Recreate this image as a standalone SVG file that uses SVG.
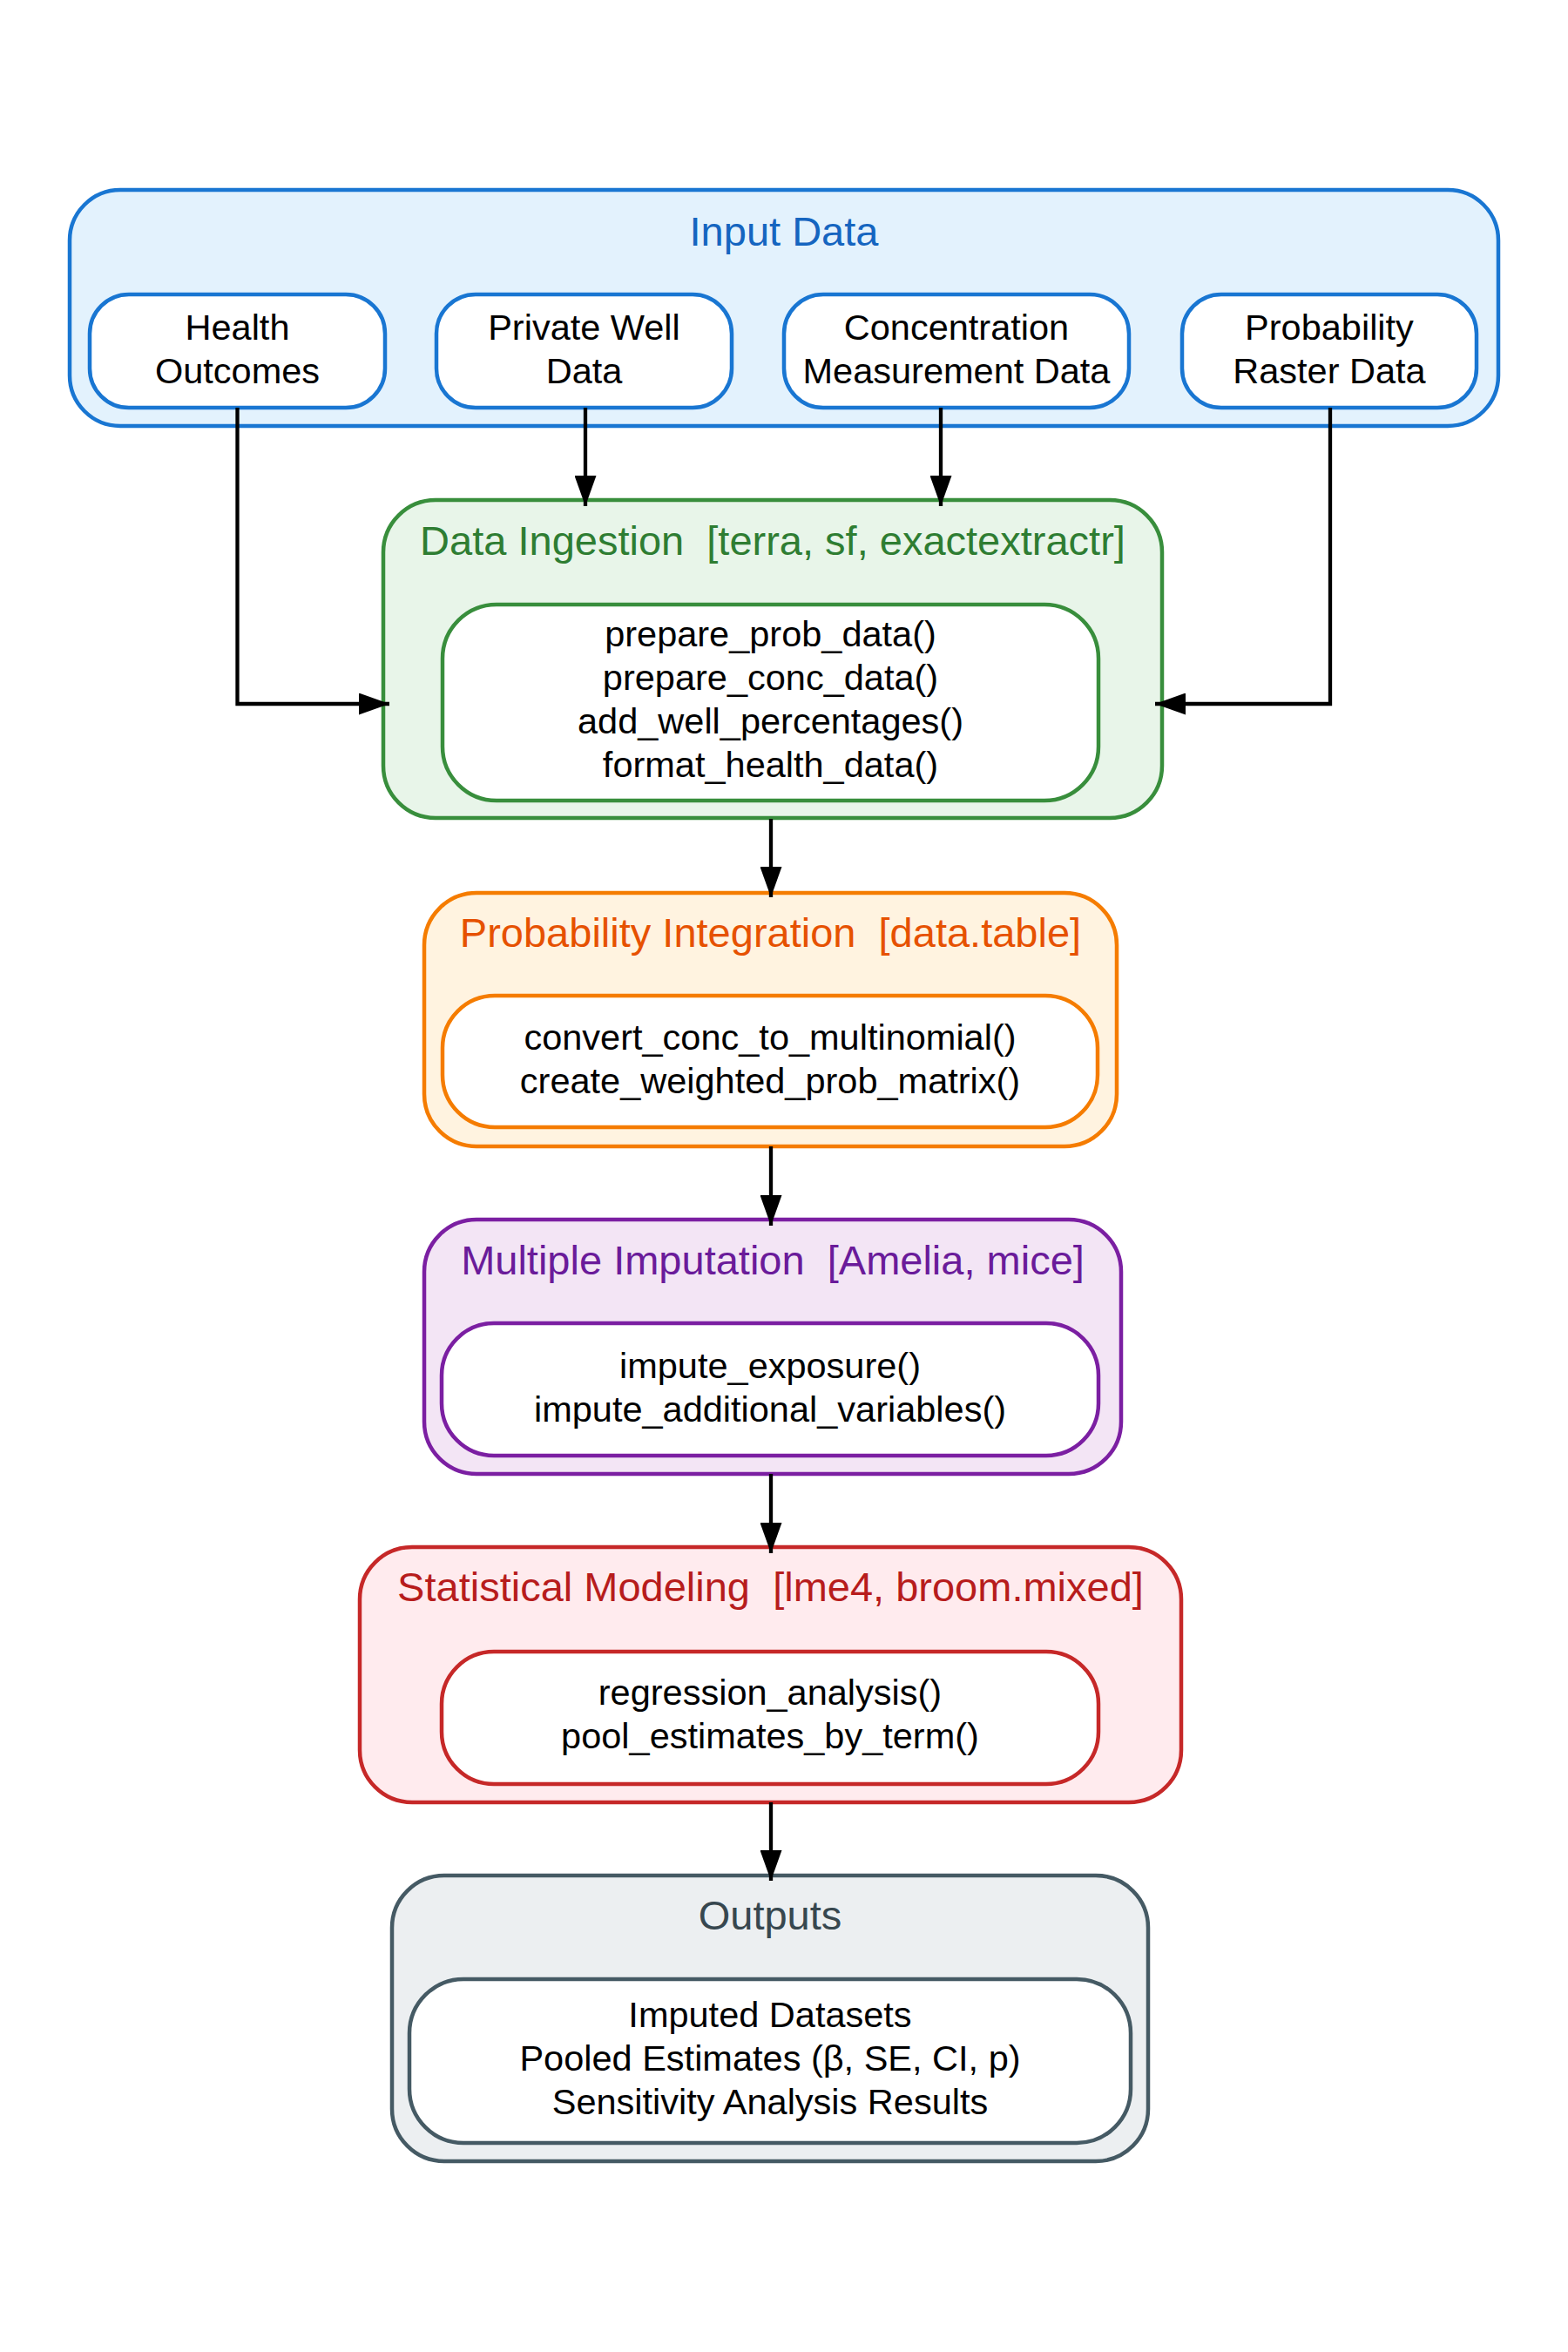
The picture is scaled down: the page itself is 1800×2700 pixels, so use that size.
<svg xmlns="http://www.w3.org/2000/svg" width="1800" height="2700" viewBox="0 0 1800 2700">
<defs>
<marker id="arr" markerUnits="userSpaceOnUse" markerWidth="35" markerHeight="25" refX="35" refY="12.5" orient="auto">
<path d="M0,0 L35,12.5 L0,25 z" fill="#000"/>
</marker>
<style>
text{font-family:"Liberation Sans",Arial,sans-serif;text-anchor:middle;white-space:pre}
.t{font-size:47px}
.n{font-size:41.5px;fill:#000}
.box{stroke-width:4.5}
.in{fill:#fff;stroke-width:4.5}
.edge{fill:none;stroke:#000;stroke-width:4.3;marker-end:url(#arr)}
</style>
</defs>
<rect width="1800" height="2700" fill="#fff"/>

<g id="input-data">
<rect class="box" x="80" y="218" width="1640" height="271" rx="58" fill="#E3F2FD" stroke="#1976D2"/>
<text class="t" x="900" y="282" fill="#1565C0">Input Data</text>
</g>
<g id="health-outcomes">
<rect class="in" x="103" y="338" width="339" height="130" rx="45" stroke="#1976D2"/>
<text class="n" x="272.5" y="390">Health</text>
<text class="n" x="272.5" y="440">Outcomes</text>
</g>
<g id="private-well">
<rect class="in" x="501" y="338" width="339" height="130" rx="45" stroke="#1976D2"/>
<text class="n" x="670.5" y="390">Private Well</text>
<text class="n" x="670.5" y="440">Data</text>
</g>
<g id="concentration">
<rect class="in" x="900" y="338" width="396" height="130" rx="45" stroke="#1976D2"/>
<text class="n" x="1098" y="390">Concentration</text>
<text class="n" x="1098" y="440">Measurement Data</text>
</g>
<g id="probability-raster">
<rect class="in" x="1357" y="338" width="338" height="130" rx="45" stroke="#1976D2"/>
<text class="n" x="1526" y="390">Probability</text>
<text class="n" x="1526" y="440">Raster Data</text>
</g>

<g id="data-ingestion">
<rect class="box" x="440" y="574" width="894" height="365" rx="60" fill="#E8F5E9" stroke="#388E3C"/>
<text class="t" x="887" y="637" fill="#2E7D32">Data Ingestion  [terra, sf, exactextractr]</text>
<rect class="in" x="508" y="694" width="753" height="225" rx="62" stroke="#388E3C"/>
<text class="n" x="884.5" y="741.7">prepare_prob_data()</text>
<text class="n" x="884.5" y="791.7">prepare_conc_data()</text>
<text class="n" x="884.5" y="841.7">add_well_percentages()</text>
<text class="n" x="884.5" y="891.7">format_health_data()</text>
</g>

<g id="probability-integration">
<rect class="box" x="487" y="1025" width="795" height="291" rx="60" fill="#FFF3E0" stroke="#F57C00"/>
<text class="t" x="884.5" y="1087" fill="#E65100">Probability Integration  [data.table]</text>
<rect class="in" x="508" y="1143" width="752" height="151" rx="60" stroke="#F57C00"/>
<text class="n" x="884" y="1205">convert_conc_to_multinomial()</text>
<text class="n" x="884" y="1255">create_weighted_prob_matrix()</text>
</g>

<g id="multiple-imputation">
<rect class="box" x="487" y="1400" width="800" height="292" rx="60" fill="#F3E5F5" stroke="#7B1FA2"/>
<text class="t" x="887" y="1463" fill="#6A1B9A">Multiple Imputation  [Amelia, mice]</text>
<rect class="in" x="507" y="1519" width="754" height="152" rx="60" stroke="#7B1FA2"/>
<text class="n" x="884" y="1582">impute_exposure()</text>
<text class="n" x="884" y="1632">impute_additional_variables()</text>
</g>

<g id="statistical-modeling">
<rect class="box" x="413" y="1776" width="943" height="293" rx="60" fill="#FFEBEE" stroke="#C62828"/>
<text class="t" x="884.5" y="1838" fill="#B71C1C">Statistical Modeling  [lme4, broom.mixed]</text>
<rect class="in" x="507" y="1896" width="754" height="152" rx="60" stroke="#C62828"/>
<text class="n" x="884" y="1957">regression_analysis()</text>
<text class="n" x="884" y="2007">pool_estimates_by_term()</text>
</g>

<g id="outputs">
<rect class="box" x="450" y="2153" width="868" height="328" rx="60" fill="#ECEFF1" stroke="#455A64"/>
<text class="t" x="884" y="2215" fill="#37474F">Outputs</text>
<rect class="in" x="470" y="2272" width="828" height="188" rx="62" stroke="#455A64"/>
<text class="n" x="884" y="2327">Imputed Datasets</text>
<text class="n" x="884" y="2377">Pooled Estimates (β, SE, CI, p)</text>
<text class="n" x="884" y="2427">Sensitivity Analysis Results</text>
</g>

<g id="connectors">
<path class="edge" d="M272.5,468 V808 H447"/>
<path class="edge" d="M672,468 V581"/>
<path class="edge" d="M1080,468 V581"/>
<path class="edge" d="M1527,468 V808 H1326"/>
<path class="edge" d="M885,940 V1030"/>
<path class="edge" d="M885,1316 V1407"/>
<path class="edge" d="M885,1692 V1783"/>
<path class="edge" d="M885,2069 V2159"/>
</g>
</svg>
